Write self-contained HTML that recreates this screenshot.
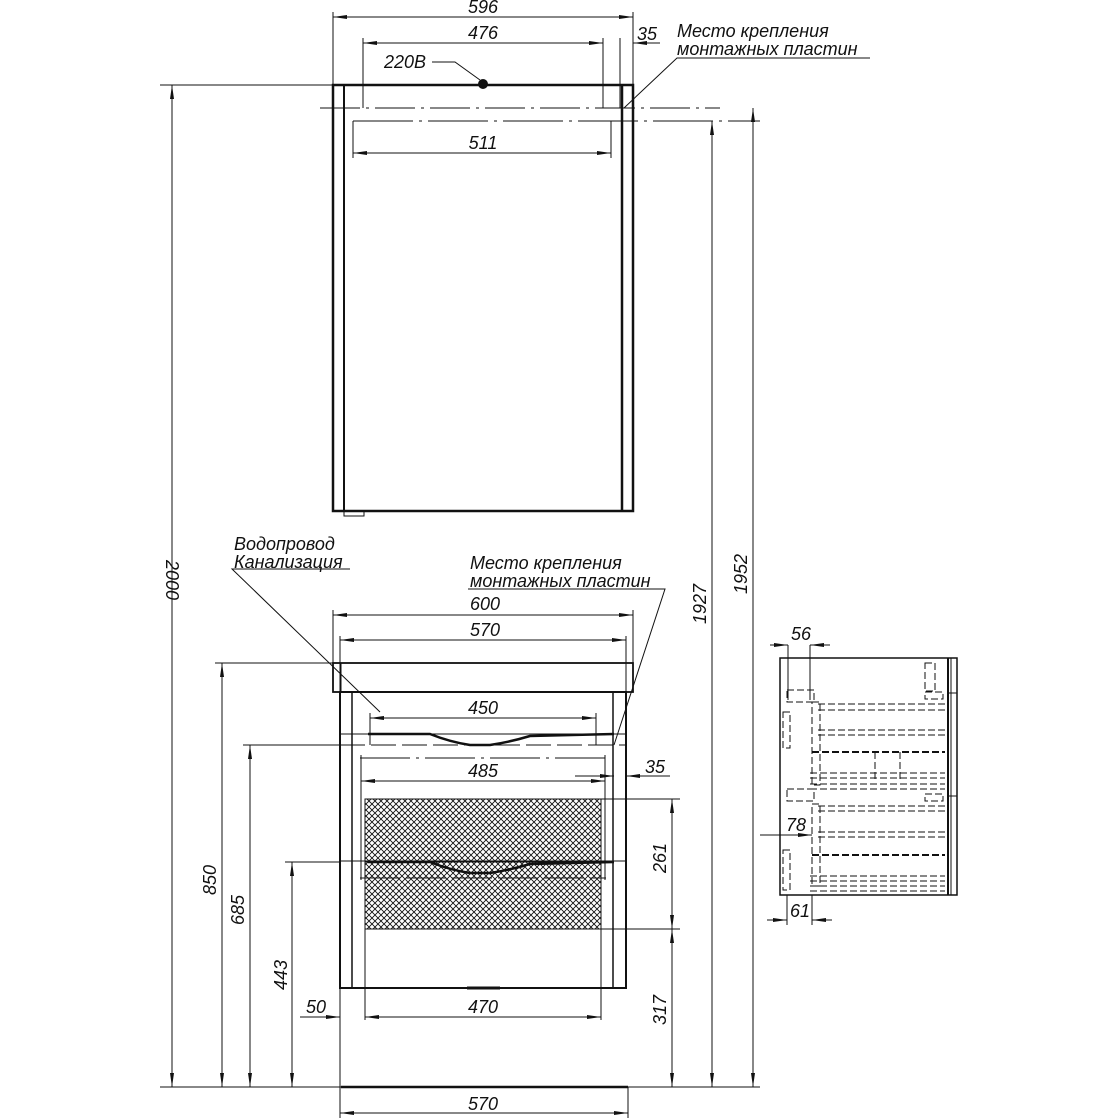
<!DOCTYPE html>
<html><head><meta charset="utf-8"><style>
html,body{margin:0;padding:0;background:#fff}
svg{display:block}
text{font-family:"Liberation Sans",sans-serif;font-style:italic;fill:#111}
</style></head><body>
<svg width="1120" height="1120" viewBox="0 0 1120 1120" xmlns="http://www.w3.org/2000/svg">
<defs>
<marker id="a" viewBox="0 0 14 6" refX="14" refY="3" markerWidth="14" markerHeight="6" orient="auto-start-reverse" markerUnits="userSpaceOnUse"><path d="M0,1 L14,3 L0,5z" fill="#111"/></marker>
<pattern id="h" width="6" height="6" patternUnits="userSpaceOnUse"><path d="M0,0L6,6M6,0L0,6" stroke="#111" stroke-width="0.9"/></pattern>
</defs>
<g stroke="#111" fill="none" stroke-width="1">
<rect x="333" y="85" width="300" height="426" stroke-width="2.5"/>
<line x1="344" y1="85" x2="344" y2="511" stroke-width="2"/>
<line x1="622" y1="85" x2="622" y2="511" stroke-width="2.5"/>
<rect x="344" y="511" width="20" height="5"/>
<circle cx="483" cy="84" r="4.5" fill="#111"/>
<line x1="320" y1="108" x2="720" y2="108" stroke-dasharray="40,6,3,6"/>
<line x1="353" y1="121" x2="760" y2="121" stroke-dasharray="60,6,3,6"/>
<line x1="333" y1="12" x2="333" y2="85"/><line x1="633" y1="12" x2="633" y2="85"/>
<line x1="333" y1="17" x2="633" y2="17" marker-start="url(#a)" marker-end="url(#a)"/>
<line x1="363" y1="38" x2="363" y2="108"/><line x1="603" y1="38" x2="603" y2="108"/>
<line x1="363" y1="43" x2="603" y2="43" marker-start="url(#a)" marker-end="url(#a)"/>
<line x1="620" y1="38" x2="620" y2="108"/>
<line x1="633" y1="43" x2="660" y2="43"/>
<line x1="645" y1="43" x2="633" y2="43" marker-end="url(#a)"/>
<line x1="353" y1="121" x2="353" y2="158"/><line x1="611" y1="121" x2="611" y2="158"/>
<line x1="353" y1="153" x2="611" y2="153" marker-start="url(#a)" marker-end="url(#a)"/>
<polyline points="432,62 455,62 480,80"/>
<polyline points="870,58 677,58 624,108"/>
<line x1="160" y1="85" x2="333" y2="85"/>
<line x1="172" y1="85" x2="172" y2="1087" marker-start="url(#a)" marker-end="url(#a)"/>
<line x1="712" y1="121" x2="712" y2="1087" marker-start="url(#a)" marker-end="url(#a)"/>
<line x1="753" y1="108" x2="753" y2="1087" marker-start="url(#a)" marker-end="url(#a)"/>
<line x1="160" y1="1087" x2="760" y2="1087"/>
<line x1="341" y1="1087" x2="628" y2="1087" stroke-width="2.5"/>
<rect x="333" y="663" width="300" height="29" stroke-width="1.8"/>
<line x1="341" y1="663" x2="341" y2="692"/><line x1="626" y1="663" x2="626" y2="692"/>
<rect x="340" y="692" width="286" height="296" stroke-width="2"/>
<line x1="352" y1="692" x2="352" y2="988" stroke-width="1.5"/>
<line x1="613" y1="692" x2="613" y2="988" stroke-width="1.5"/>
<line x1="340" y1="734" x2="626" y2="734" stroke-width="1"/>
<path d="M368,734 L430,734 Q450,742 470,745 L490,745 Q510,742 530,736 L614,734" stroke-width="2.5"/>
<line x1="340" y1="745" x2="626" y2="745" stroke-dasharray="25,6"/>
<line x1="360" y1="758" x2="606" y2="758" stroke-dasharray="50,6,3,6"/>
<rect x="365" y="799" width="236" height="62" fill="url(#h)"/>
<rect x="365" y="862" width="236" height="67" fill="url(#h)"/>
<line x1="340" y1="861" x2="626" y2="861" stroke-width="1"/>
<path d="M368,862 L430,862 Q450,870 470,873 L490,873 Q510,870 530,864 L614,862" stroke-width="2.5"/>
<line x1="360" y1="878" x2="606" y2="878" stroke-dasharray="40,6"/>
<line x1="467" y1="988" x2="500" y2="988" stroke-width="3"/>
<line x1="365" y1="799" x2="365" y2="1020"/><line x1="601" y1="799" x2="601" y2="1020"/>
<line x1="333" y1="610" x2="333" y2="663"/><line x1="633" y1="610" x2="633" y2="663"/>
<line x1="333" y1="615" x2="633" y2="615" marker-start="url(#a)" marker-end="url(#a)"/>
<line x1="340" y1="636" x2="340" y2="692"/><line x1="626" y1="636" x2="626" y2="692"/>
<line x1="340" y1="640" x2="626" y2="640" marker-start="url(#a)" marker-end="url(#a)"/>
<line x1="370" y1="713" x2="370" y2="745"/><line x1="596" y1="713" x2="596" y2="745"/>
<line x1="370" y1="718" x2="596" y2="718" marker-start="url(#a)" marker-end="url(#a)"/>
<line x1="361" y1="755" x2="361" y2="880"/><line x1="605" y1="755" x2="605" y2="880"/>
<line x1="361" y1="781" x2="605" y2="781" marker-start="url(#a)" marker-end="url(#a)"/>
<line x1="575" y1="776" x2="614" y2="776" marker-end="url(#a)"/>
<line x1="626" y1="776" x2="670" y2="776"/>
<line x1="640" y1="776" x2="626" y2="776" marker-end="url(#a)"/>
<line x1="365" y1="1017" x2="601" y2="1017" marker-start="url(#a)" marker-end="url(#a)"/>
<line x1="300" y1="1017" x2="340" y2="1017" marker-end="url(#a)"/>
<line x1="340" y1="988" x2="340" y2="1118"/><line x1="628" y1="1087" x2="628" y2="1118"/>
<line x1="340" y1="1113" x2="628" y2="1113" marker-start="url(#a)" marker-end="url(#a)"/>
<line x1="215" y1="663" x2="333" y2="663"/>
<line x1="222" y1="663" x2="222" y2="1087" marker-start="url(#a)" marker-end="url(#a)"/>
<line x1="243" y1="745" x2="340" y2="745"/>
<line x1="250" y1="745" x2="250" y2="1087" marker-start="url(#a)" marker-end="url(#a)"/>
<line x1="285" y1="862" x2="340" y2="862"/>
<line x1="292" y1="862" x2="292" y2="1087" marker-start="url(#a)" marker-end="url(#a)"/>
<line x1="601" y1="799" x2="680" y2="799"/><line x1="601" y1="929" x2="680" y2="929"/>
<line x1="672" y1="799" x2="672" y2="929" marker-start="url(#a)" marker-end="url(#a)"/>
<line x1="672" y1="929" x2="672" y2="1087" marker-start="url(#a)" marker-end="url(#a)"/>
<polyline points="350,569 232,569 380,712"/>
<polyline points="468,589 665,589 614,745"/>
<rect x="780" y="658" width="177" height="237" stroke-width="1.5"/>
<line x1="948" y1="658" x2="948" y2="895" stroke-width="2"/>
<line x1="951" y1="658" x2="951" y2="895" stroke-width="1"/>
<line x1="948" y1="693" x2="957" y2="693"/><line x1="948" y1="796" x2="957" y2="796"/>
<g stroke-dasharray="7,3">
<rect x="787" y="690" width="27" height="12"/>
<rect x="783" y="712" width="7" height="36"/>
<rect x="812" y="702" width="8" height="83"/>
<line x1="818" y1="704" x2="945" y2="704"/><line x1="818" y1="710" x2="945" y2="710"/>
<line x1="818" y1="730" x2="945" y2="730"/><line x1="818" y1="735" x2="945" y2="735"/>
<line x1="812" y1="752" x2="945" y2="752" stroke-width="2"/>
<line x1="875" y1="752" x2="875" y2="782"/><line x1="900" y1="752" x2="900" y2="782"/>
<line x1="810" y1="773" x2="945" y2="773"/><line x1="810" y1="778" x2="945" y2="778"/>
<line x1="810" y1="784" x2="945" y2="784"/><line x1="810" y1="789" x2="945" y2="789"/>
<rect x="787" y="789" width="27" height="12"/>
<rect x="812" y="804" width="8" height="82"/>
<line x1="818" y1="806" x2="945" y2="806"/><line x1="818" y1="811" x2="945" y2="811"/>
<line x1="818" y1="832" x2="945" y2="832"/><line x1="818" y1="837" x2="945" y2="837"/>
<line x1="812" y1="855" x2="945" y2="855" stroke-width="2"/>
<line x1="810" y1="876" x2="945" y2="876"/><line x1="810" y1="881" x2="945" y2="881"/>
<line x1="810" y1="886" x2="945" y2="886"/><line x1="810" y1="891" x2="945" y2="891"/>
<rect x="783" y="850" width="7" height="40"/>
<rect x="925" y="663" width="10" height="28"/>
<rect x="925" y="692" width="18" height="7"/><rect x="925" y="794" width="18" height="7"/>
</g>
<line x1="788" y1="645" x2="788" y2="700"/><line x1="810" y1="645" x2="810" y2="700"/>
<line x1="770" y1="645" x2="788" y2="645" marker-end="url(#a)"/>
<line x1="830" y1="645" x2="810" y2="645" marker-end="url(#a)"/>
<line x1="760" y1="835" x2="812" y2="835" marker-end="url(#a)"/>
<line x1="787" y1="895" x2="787" y2="925"/><line x1="812" y1="895" x2="812" y2="925"/>
<line x1="767" y1="920" x2="787" y2="920" marker-end="url(#a)"/>
<line x1="832" y1="920" x2="812" y2="920" marker-end="url(#a)"/>
</g>
<g font-size="18">
<text x="483" y="13" text-anchor="middle">596</text>
<text x="483" y="39" text-anchor="middle">476</text>
<text x="637" y="40">35</text>
<text x="384" y="68">220B</text>
<text x="483" y="149" text-anchor="middle">511</text>
<text x="677" y="37">Место крепления</text>
<text x="677" y="55">монтажных пластин</text>
<text x="234" y="550">Водопровод</text>
<text x="234" y="568">Канализация</text>
<text x="470" y="569">Место крепления</text>
<text x="470" y="587">монтажных пластин</text>
<text x="470" y="610">600</text>
<text x="470" y="636">570</text>
<text x="483" y="714" text-anchor="middle">450</text>
<text x="483" y="777" text-anchor="middle">485</text>
<text x="645" y="773">35</text>
<text x="483" y="1013" text-anchor="middle">470</text>
<text x="306" y="1013">50</text>
<text x="483" y="1110" text-anchor="middle">570</text>
<text transform="translate(216,880) rotate(-90)" text-anchor="middle">850</text>
<text transform="translate(244,910) rotate(-90)" text-anchor="middle">685</text>
<text transform="translate(287,975) rotate(-90)" text-anchor="middle">443</text>
<text transform="translate(666,858) rotate(-90)" text-anchor="middle">261</text>
<text transform="translate(666,1010) rotate(-90)" text-anchor="middle">317</text>
<text transform="translate(706,604) rotate(-90)" text-anchor="middle">1927</text>
<text transform="translate(747,574) rotate(-90)" text-anchor="middle">1952</text>
<text transform="translate(166,580) rotate(90)" text-anchor="middle">2000</text>
<text x="791" y="640">56</text>
<text x="786" y="831">78</text>
<text x="790" y="917">61</text>
</g>
</svg>
</body></html>
